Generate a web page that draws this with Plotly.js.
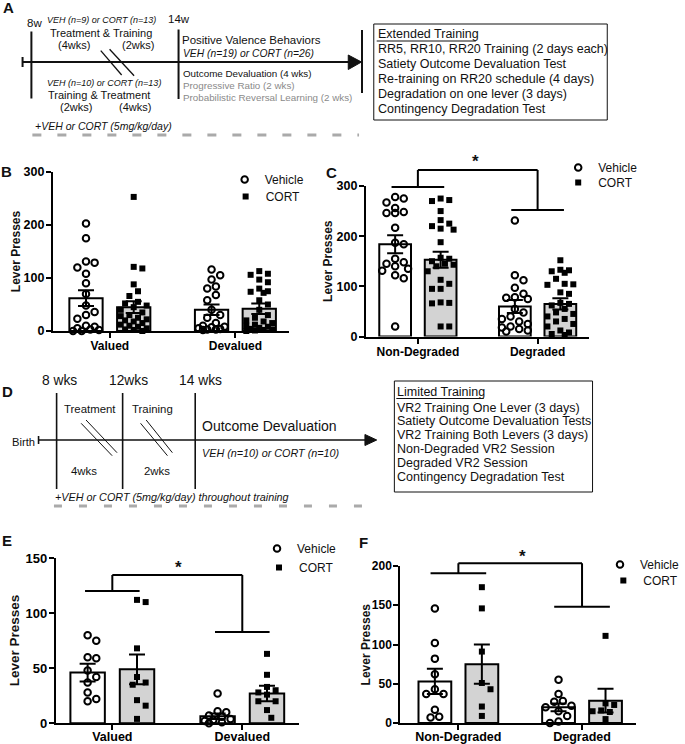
<!DOCTYPE html>
<html><head><meta charset="utf-8">
<script src="https://cdn.plot.ly/plotly-3.0.1.min.js"></script>
<style>html,body{margin:0;padding:0;background:#fff}#chart{width:685px;height:744px}</style>
</head><body><div id="chart"></div>
<script>
// ---------------- DATA ----------------
// Panel B: extended training, outcome devaluation
const bCategories = ['Valued', 'Devalued'];
const bVehicleValued = [203, 175, 131, 129, 120, 108, 90, 70, 48, 36, 30, 23, 10, 8, 5, 3, 2, 0, 0];
const bVehicleDevalued = [116, 105, 97, 84, 80, 68, 58, 40, 30, 25, 15, 10, 8, 7, 5, 4, 3, 3, 2];
const bCortValued = [253, 121, 118, 88, 75, 66, 55, 52, 48, 45, 40, 35, 30, 28, 25, 22, 20, 18, 15, 12, 10, 8, 5, 3, 2, 0];
const bCortDevalued = [113, 108, 106, 97, 92, 80, 75, 74, 72, 58, 50, 40, 30, 25, 20, 18, 15, 12, 10, 8, 6, 4, 3, 2, 1, 0];
const bVehicleMean = [62, 40];
const bVehicleSem = [15, 10];
const bCortMean = [45, 42];
const bCortSem = [11, 10];

// Panel C: extended training, contingency degradation
const cCategories = ['Non-Degraded', 'Degraded'];
const cVehicleNonDeg = [278, 275, 267, 256, 248, 246, 246, 217, 187, 184, 155, 148, 145, 140, 135, 131, 122, 116, 20];
const cVehicleDeg = [231, 122, 112, 97, 85, 78, 77, 75, 55, 48, 40, 35, 30, 25, 20, 18, 15, 12, 10];
const cCortNonDeg = [275, 272, 270, 250, 232, 225, 220, 215, 213, 188, 157, 155, 150, 145, 143, 140, 130, 113, 105, 95, 95, 68, 67, 66, 20, 20];
const cCortDeg = [152, 133, 132, 130, 127, 115, 105, 104, 103, 88, 85, 67, 65, 62, 55, 48, 45, 40, 35, 30, 25, 20, 12, 8, 5, 3];
const cVehicleMean = [184, 60];
const cVehicleSem = [18, 13];
const cCortMean = [153, 65];
const cCortSem = [16, 11];

// Panel E: limited training, outcome devaluation
const eCategories = ['Valued', 'Devalued'];
const eVehicleValued = [80, 75, 60, 59, 48, 42, 37, 28, 22, 20];
const eVehicleDevalued = [27, 11, 10, 7, 6, 4, 3, 2, 1, 0];
const eCortValued = [112, 110, 68, 42, 37, 35, 21, 16, 4];
const eCortDevalued = [63, 44, 33, 30, 28, 26, 20, 20, 12, 5];
const eVehicleMean = [46, 6.5];
const eVehicleSem = [8, 2.5];
const eCortMean = [49, 27];
const eCortSem = [13.5, 7];

// Panel F: limited training, contingency degradation
const fCategories = ['Non-Degraded', 'Degraded'];
const fVehicleNonDeg = [146, 102, 82, 62, 43, 37, 37, 17, 8, 7];
const fVehicleDeg = [55, 37, 28, 27, 22, 20, 15, 9, 2, 0];
const fCortNonDeg = [173, 146, 91, 51, 43, 21, 9];
const fCortDeg = [111, 25, 23, 16, 15, 14, 5];
const fVehicleMean = [53, 20];
const fVehicleSem = [16, 5];
const fCortMean = [75, 28.5];
const fCortSem = [25, 15];

const yTickValsB = [0, 100, 200, 300];
const yTickValsC = [0, 100, 200, 300];
const yTickValsE = [0, 50, 100, 150];
const yTickValsF = [0, 50, 100, 150, 200];

// ---------------- LAYOUT HELPERS ----------------
const W = 685, H = 744;
const FX = v => v / W;
const FY = v => 1 - v / H;
const FONT = 'Liberation Sans, Arial, Helvetica, sans-serif';
const INK = '#111';
const OFF = 0.19, BARW = 0.265;

function swarm(values, center, pxX, pxY, diam) {
  const order = values.map((v, i) => i).sort((a, b) => values[b] - values[a]);
  const placed = [];
  const xs = new Array(values.length);
  const step = diam * 0.55;
  for (const i of order) {
    const yp = values[i] * pxY;
    let best = 0, bestScore = -1;
    outer:
    for (let k = 0; k < 8; k++) {
      const cands = k === 0 ? [0] : [k * step, -k * step];
      for (const c of cands) {
        if (Math.abs(c) > 14) continue;
        let minD = Infinity;
        for (const p of placed) {
          const d = Math.hypot(p.x - c, p.y - yp);
          if (d < minD) minD = d;
        }
        if (minD >= diam) { best = c; break outer; }
        if (minD > bestScore) { bestScore = minD; best = c; }
      }
    }
    placed.push({ x: best, y: yp });
    xs[i] = center + best / pxX;
  }
  return xs;
}

const panels = [
  { ax: '', cats: bCategories, veh: [bVehicleValued, bVehicleDevalued], cort: [bCortValued, bCortDevalued],
    vehMean: bVehicleMean, vehSem: bVehicleSem, cortMean: bCortMean, cortSem: bCortSem, yticks: yTickValsB,
    xpx: [54, 295], ypx: [172, 331], xr: [-0.453, 1.43], yr: [0, 300],
    tickSize: 12.5, catSize: 12, catStandoff: -2, titleSize: 12, titleX: 17,
    legends: [['legend', 229, 165], ['legend2', 230, 182]], bracket: null },
  { ax: '2', cats: cCategories, veh: [cVehicleNonDeg, cVehicleDeg], cort: [cCortNonDeg, cCortDeg],
    vehMean: cVehicleMean, vehSem: cVehicleSem, cortMean: cCortMean, cortSem: cCortSem, yticks: yTickValsC,
    xpx: [373, 600], ypx: [186, 336.5], xr: [-0.434, 1.426], yr: [0, 300],
    tickSize: 12.5, catSize: 12, catStandoff: -2, titleSize: 12, titleX: 335,
    legends: [['legend3', 569, 153], ['legend4', 569, 168]],
    bracket: { top: 170, left: 187, right: 210, half: 0.22, star: [485, 161] } },
  { ax: '3', cats: eCategories, veh: [eVehicleValued, eVehicleDevalued], cort: [eCortValued, eCortDevalued],
    vehMean: eVehicleMean, vehSem: eVehicleSem, cortMean: eCortMean, cortSem: eCortSem, yticks: yTickValsE,
    xpx: [57, 305], ypx: [558, 723.3], xr: [-0.434, 1.438], yr: [0, 150],
    tickSize: 13, catSize: 12.5, catStandoff: -4, titleSize: 13.5, titleX: 15,
    legends: [['legend5', 262, 534], ['legend6', 264, 553]],
    bracket: { top: 575, left: 591, right: 632, half: 0.21, star: [182, 567] } },
  { ax: '4', cats: fCategories, veh: [fVehicleNonDeg, fVehicleDeg], cort: [fCortNonDeg, fCortDeg],
    vehMean: fVehicleMean, vehSem: fVehicleSem, cortMean: fCortMean, cortSem: fCortSem, yticks: yTickValsF,
    xpx: [408, 648], ypx: [566, 723], xr: [-0.47, 1.434], yr: [0, 200],
    tickSize: 12, catSize: 12.5, catStandoff: -4, titleSize: 12, titleX: 373,
    legends: [['legend7', 612, 550], ['legend8', 615, 566]],
    bracket: { top: 563.3, left: 573.3, right: 606.7, half: 0.225, star: [533, 556] } }
];

const traces = [];
const layout = {
  width: W, height: H, autosize: false,
  margin: { l: 0, r: 0, t: 0, b: 0, pad: 0 },
  paper_bgcolor: '#fff', plot_bgcolor: 'rgba(0,0,0,0)',
  showlegend: true, font: { family: FONT, color: INK },
  shapes: [], annotations: []
};

function ann(text, x, y, size, opts) {
  opts = opts || {};
  layout.annotations.push(Object.assign({
    text: text, x: FX(x), y: FY(y), xref: 'paper', yref: 'paper', showarrow: false,
    xanchor: 'center', yanchor: 'middle', borderpad: 0,
    font: { family: FONT, size: size, color: opts.color || INK, weight: opts.bold ? 'bold' : 'normal' }
  }, opts.extra || {}));
}
function line(x0, y0, x1, y1, w, opts) {
  opts = opts || {};
  layout.shapes.push({ type: 'line', xref: 'paper', yref: 'paper', x0: FX(x0), y0: FY(y0), x1: FX(x1), y1: FY(y1),
    line: { color: opts.color || INK, width: w, dash: opts.dash || 'solid' } });
}

panels.forEach(p => {
  const xa = 'x' + p.ax, ya = 'y' + p.ax;
  const pxX = (p.xpx[1] - p.xpx[0]) / (p.xr[1] - p.xr[0]);
  const pxY = (p.ypx[1] - p.ypx[0]) / (p.yr[1] - p.yr[0]);
  const axisBase = {
    showline: true, linecolor: '#000', linewidth: 2, ticks: 'outside', ticklen: 5, tickwidth: 2, tickcolor: '#000',
    showgrid: false, zeroline: false, fixedrange: true
  };
  layout['xaxis' + p.ax] = Object.assign({}, axisBase, {
    domain: [FX(p.xpx[0]), FX(p.xpx[1])], range: p.xr, anchor: ya,
    tickmode: 'array', tickvals: p.cats.map((c, i) => i), ticktext: p.cats, ticklabelstandoff: p.catStandoff,
    tickfont: { family: FONT, size: p.catSize, color: '#000', weight: 'bold' }
  });
  layout['yaxis' + p.ax] = Object.assign({}, axisBase, {
    domain: [FY(p.ypx[1]), FY(p.ypx[0])], range: p.yr, anchor: xa,
    tickmode: 'array', tickvals: p.yticks, ticklabelstandoff: -1,
    tickfont: { family: FONT, size: p.tickSize, color: '#000', weight: 'bold' }
  });
  const bar = (means, sems, side, fill) => ({
    type: 'bar', xaxis: xa, yaxis: ya, x: means.map((m, i) => i + side * OFF), y: means, width: BARW,
    marker: { color: fill, line: { color: '#000', width: 2 } },
    error_y: { type: 'data', array: sems, visible: true, color: '#000', thickness: 2, width: 8 },
    showlegend: false, hoverinfo: 'skip'
  });
  traces.push(bar(p.vehMean, p.vehSem, -1, '#ffffff'));
  traces.push(bar(p.cortMean, p.cortSem, 1, '#d3d3d3'));
  const dots = (groups, side, name, marker, legendId) => {
    let xs = [], ys = [];
    groups.forEach((vals, i) => {
      xs = xs.concat(swarm(vals, i + side * OFF, pxX, pxY, 8));
      ys = ys.concat(vals);
    });
    return { type: 'scatter', mode: 'markers', xaxis: xa, yaxis: ya, x: xs, y: ys, name: name,
      legend: legendId, marker: marker, cliponaxis: false, hoverinfo: 'skip' };
  };
  traces.push(dots(p.veh, -1, 'Vehicle', { symbol: 'circle-open', size: 6.5, color: '#000', line: { color: '#000', width: 2 } }, p.legends[0][0]));
  traces.push(dots(p.cort, 1, 'CORT', { symbol: 'square', size: 6, color: '#000', line: { width: 0 } }, p.legends[1][0]));
  p.legends.forEach(l => {
    layout[l[0]] = {
      x: FX(l[1]), y: FY(l[2]), xanchor: 'left', yanchor: 'top',
      xref: 'paper', yref: 'paper', bgcolor: 'rgba(0,0,0,0)', borderwidth: 0,
      font: { family: FONT, size: 12, color: INK }, itemclick: false, itemdoubleclick: false
    };
  });
  // y-axis title
  ann('Lever Presses', p.titleX, (p.ypx[0] + p.ypx[1]) / 2, p.titleSize, { bold: true, extra: { textangle: -90 } });
  // significance bracket
  if (p.bracket) {
    const b = p.bracket;
    const sh = (x0, y0, x1, y1) => layout.shapes.push({ type: 'line', xref: xa, yref: 'paper',
      x0: x0, x1: x1, y0: FY(y0), y1: FY(y1), line: { color: '#000', width: 2 } });
    sh(0, b.top, 1, b.top);
    sh(0, b.top, 0, b.left);
    sh(1, b.top, 1, b.right);
    sh(-b.half, b.left, b.half, b.left);
    sh(1 - b.half, b.right, 1 + b.half, b.right);
    ann('*', b.star[0], b.star[1], 17, { bold: true });
  }
});

// panel letters
ann('A', 9, 8, 15, { bold: true });
ann('B', 7, 171, 15, { bold: true });
ann('C', 338, 172, 15, { bold: true });
ann('D', 8, 391, 15, { bold: true });
ann('E', 7, 540, 15, { bold: true });
ann('F', 371, 542, 15, { bold: true });

// ---------------- Panel A timeline ----------------
line(23, 62, 358, 62, 2);
line(23, 57, 23, 67, 2);
line(32, 31.5, 32, 98.5, 2);
line(182, 29.5, 182, 99, 2);
line(369, 30, 369, 93, 2);
line(102.7, 50.7, 124, 75, 1.3);
line(111.7, 49.3, 136.7, 75.7, 1.3);
layout.shapes.push({ type: 'path', xref: 'paper', yref: 'paper',
  path: `M ${FX(355)},${FY(55)} L ${FX(368.5)},${FY(62)} L ${FX(355)},${FY(69.5)} Z`,
  fillcolor: INK, line: { color: INK, width: 1 } });
line(33, 135, 366, 135, 3, { color: '#aaaaaa', dash: '9px,16px' });
ann('8w', 35, 23, 11.5);
ann('14w', 182, 19, 11.5);
ann('<i>VEH (n=9) or CORT (n=13)</i>', 103, 20, 9);
ann('Treatment & Training', 103, 33, 11);
ann('(4wks)', 75, 45, 11);
ann('(2wks)', 141, 45, 11);
ann('<i>VEH (n=10) or CORT (n=13)</i>', 106, 83, 9);
ann('Training & Treatment', 101, 95, 11);
ann('(2wks)', 77, 107, 11);
ann('(4wks)', 138, 107, 11);
ann('<i>+VEH or CORT (5mg/kg/day)</i>', 35, 126, 10.5, { extra: { xanchor: 'left' } });
ann('Positive Valence Behaviors', 185, 40, 11.5, { extra: { xanchor: 'left' } });
ann('<i>VEH (n=19) or CORT (n=26)</i>', 186, 53, 10.3, { extra: { xanchor: 'left' } });
ann('Outcome Devaluation (4 wks)', 186, 73, 9.8, { extra: { xanchor: 'left' } });
ann('Progressive Ratio (2 wks)', 186, 85, 9.8, { color: '#8a8a8a', extra: { xanchor: 'left' } });
ann('Probabilistic Reversal Learning (2 wks)', 186, 97, 9.8, { color: '#8a8a8a', extra: { xanchor: 'left' } });
layout.shapes.push({ type: 'rect', xref: 'paper', yref: 'paper', x0: FX(381), x1: FX(619), y0: FY(24), y1: FY(120),
  line: { color: INK, width: 1 }, fillcolor: 'rgba(0,0,0,0)' });
const boxA = ['Extended Training', 'RR5, RR10, RR20 Training (2 days each)', 'Satiety Outcome Devaluation Test',
  'Re-training on RR20 schedule (4 days)', 'Degradation on one lever (3 days)', 'Contingency Degradation Test'];
const boxAy = [34, 49, 64, 79, 94, 108.5];
boxA.forEach((t, i) => ann(t, 384, boxAy[i], 12.5, { extra: { xanchor: 'left' } }));
line(384, 41, 485, 41, 1);

// ---------------- Panel D timeline ----------------
line(39.3, 440, 374, 440, 1.6);
line(39.3, 436, 39.3, 444, 1.6);
line(57.7, 393, 57.7, 489, 1.6);
line(125, 393, 125, 489, 1.6);
line(199, 393, 199, 489, 1.6);
line(82.7, 423.3, 114.3, 455.7, 1);
line(87.7, 420, 119.3, 452.7, 1);
line(143.3, 423.3, 170.7, 455.7, 1);
line(149, 420, 175.7, 452.7, 1);
layout.shapes.push({ type: 'path', xref: 'paper', yref: 'paper',
  path: `M ${FX(372)},${FY(434.5)} L ${FX(384)},${FY(440)} L ${FX(372)},${FY(445.5)} Z`,
  fillcolor: INK, line: { color: INK, width: 1 } });
line(55, 506, 384, 506, 3, { color: '#aaaaaa', dash: '8px,17px' });
ann('8 wks', 60.5, 380, 13.8);
ann('12wks', 130.5, 380, 13.8);
ann('14 wks', 204.5, 380, 13.8);
ann('Birth', 37, 442, 11.2, { extra: { xanchor: 'right' } });
ann('Treatment', 92, 409, 11.4);
ann('Training', 155.5, 409, 11.4);
ann('4wks', 86, 471, 11.4);
ann('2wks', 160, 471, 11.4);
ann('Outcome Devaluation', 205, 426, 14, { extra: { xanchor: 'left' } });
ann('<i>VEH (n=10) or CORT (n=10)</i>', 205, 453, 10.8, { extra: { xanchor: 'left' } });
ann('<i>+VEH or CORT (5mg/kg/day) throughout training</i>', 55, 497, 10.8, { extra: { xanchor: 'left' } });
layout.shapes.push({ type: 'rect', xref: 'paper', yref: 'paper', x0: FX(402), x1: FX(604), y0: FY(381), y1: FY(492),
  line: { color: INK, width: 1 }, fillcolor: 'rgba(0,0,0,0)' });
const boxD = ['Limited Training', 'VR2 Training One Lever (3 days)', 'Satiety Outcome Devaluation Tests',
  'VR2 Training Both Levers (3 days)', 'Non-Degraded VR2 Session', 'Degraded VR2 Session', 'Contingency Degradation Test'];
const boxDy = [392.3, 407.7, 421, 435, 449.3, 463.3, 477.3];
boxD.forEach((t, i) => ann(t, 404, boxDy[i], 12.5, { extra: { xanchor: 'left' } }));
line(404, 398.5, 493, 398.5, 1);

Plotly.newPlot('chart', traces, layout, { staticPlot: true, displayModeBar: false });
</script>
</body></html>
